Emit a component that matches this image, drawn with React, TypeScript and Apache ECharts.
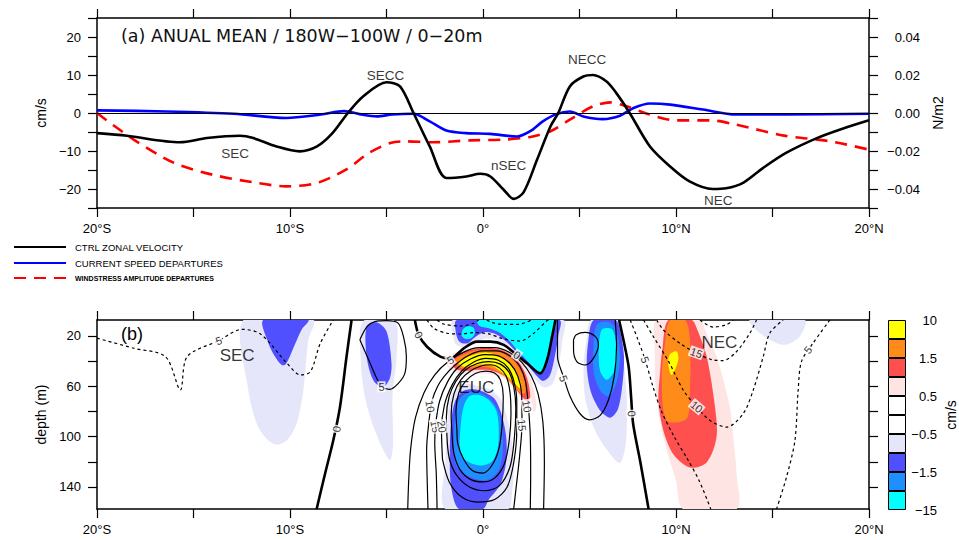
import React, { useEffect, useRef } from "react";
import * as echarts from "echarts";

type Pt = [number, number];

// ================= Panel (a): lines =================
const ctrlZonalVelocity: Pt[] = [
  [-20, -5.3], [-18.45, -6.0], [-15.7, -7.7], [-14.3, -6.6], [-12.6, -6.0], [-11.9, -6.6],
  [-10.7, -8.8], [-9.5, -10.1], [-8.6, -8.8], [-7.8, -5.3], [-7.0, 0], [-6.2, 4.4],
  [-5.0, 8.1], [-4.3, 7.0], [-3.6, 0], [-2.76, -8.8], [-1.9, -17.1], [-0.86, -16.7],
  [-0.14, -16.0], [0.38, -16.7], [1.07, -20.2], [1.59, -22.6], [2.1, -20.9], [2.8, -12.3],
  [3.5, -3.5], [3.9, 0], [4.5, 7.0], [5.2, 9.6], [5.7, 10.0], [6.4, 8.3], [6.9, 5.3],
  [7.6, 0], [8.65, -8.8], [9.7, -14.1], [10.7, -18.0], [11.9, -20.0], [12.6, -19.8],
  [13.5, -18.3], [14.5, -14.5], [15.7, -10.5], [17.3, -6.6], [18.7, -4.0], [20, -1.9],
];
const currentSpeedDepartures: Pt[] = [
  [-20, 0.7], [-16.4, 0.4], [-12.9, -0.2], [-10.2, -1.3], [-8.4, -0.4], [-7.2, 0.5],
  [-6.4, -0.3], [-5.5, -0.9], [-4.7, -0.4], [-3.6, -0.2], [-2.76, -2.2], [-1.9, -4.6],
  [-0.86, -5.3], [0.38, -5.5], [1.76, -6.2], [2.45, -4.8], [3.1, -2.2], [3.8, -0.3],
  [4.5, 0.4], [5.2, -0.9], [6.2, -1.6], [7.1, -0.7], [7.8, 1.3], [8.65, 2.5], [9.7, 2.2],
  [11.4, 0.9], [13.1, -0.4], [15.7, -0.4], [20, -0.2],
];
const windstressDepartures: Pt[] = [
  [-20, 0], [-18.1, -0.014], [-16.0, -0.0263], [-14.0, -0.0325], [-11.9, -0.0365],
  [-10.2, -0.0386], [-8.6, -0.0368], [-7.1, -0.0298], [-5.9, -0.021], [-4.8, -0.0158],
  [-4.0, -0.0149], [-2.6, -0.0154], [-0.66, -0.0144], [1.07, -0.014], [2.45, -0.0126],
  [3.5, -0.0096], [4.5, -0.0035], [5.7, 0.0035], [6.6, 0.0056], [7.45, 0.0035],
  [8.5, -0.0004], [10, -0.0039], [11.8, -0.0039], [13.1, -0.0061], [15.6, -0.0119],
  [18, -0.0149], [20, -0.0193],
];
const panelALabels: [string, number, number][] = [
  ["SECC", -5.05, 10.0], ["SEC", -12.84, -10.7], ["nSEC", 1.33, -13.8],
  ["NECC", 5.4, 14.1], ["NEC", 12.19, -22.9],
];

// ================= Tick labels =================
const latTickValues = [-20, -10, 0, 10, 20];
const latTickLabels = ["20°S", "10°S", "0°", "10°N", "20°N"];
const velTickValues = [-20, -10, 0, 10, 20];
const velTickLabels = ["−20", "−10", "0", "10", "20"];
const stressTickValues = [-0.04, -0.02, 0, 0.02, 0.04];
const stressTickLabels = ["−0.04", "−0.02", "0.00", "0.02", "0.04"];
const depthTickValues = [20, 40, 60, 80, 100, 120, 140];
const depthLabelValues = [20, 60, 100, 140];

// ================= Panel (b): shaded departures =================
const secLav: Pt[] = [[-12.41, 7.5], [-12.16, 63.2], [-11.72, 89.9], [-11.21, 101.9], [-10.69, 106.4], [-10.17, 103.2], [-9.66, 89.9], [-9.31, 63.2], [-9.05, 23.2], [-8.79, 7.5]];
const secBlue: Pt[] = [[-11.38, 7.5], [-11.12, 25.9], [-10.78, 36.5], [-10.43, 43.2], [-10.21, 42.4], [-9.83, 29.9], [-9.4, 15.2], [-9.05, 7.5]];
const s5Lav: Pt[] = [[-6.21, 8.5], [-6.34, 36.5], [-6.12, 68.5], [-5.6, 95.2], [-4.83, 118.7], [-4.66, 105.9], [-4.69, 68.5], [-4.48, 36.5], [-4.57, 8.5]];
const s5Blue: Pt[] = [[-6.03, 12.5], [-5.52, 9.3], [-5.0, 16.5], [-4.74, 41.9], [-4.83, 53.9], [-5.21, 61.1], [-5.69, 55.2], [-6.03, 36.5]];
const eucLav: Pt[] = [[-1.95, 157.5], [-1.95, 120], [-1.85, 90], [-1.7, 70], [-1.35, 60], [-0.8, 58], [-0.2, 60], [0.4, 63], [0.9, 70], [1.25, 85], [1.5, 105], [1.6, 125], [1.5, 145], [1.3, 157.5]];
const eucBlue: Pt[] = [[-1.25, 157.5], [-1.65, 140], [-1.72, 115], [-1.65, 88], [-1.45, 72], [-1.05, 64], [-0.5, 62.5], [0.1, 65], [0.6, 70], [0.95, 82], [1.2, 100], [1.2, 120], [0.9, 138], [0.3, 150], [0.0, 157.5]];
const eucDodger: Pt[] = [[-1.45, 120], [-1.5, 100], [-1.42, 82], [-1.2, 70], [-0.75, 65], [-0.2, 65.5], [0.35, 70], [0.8, 80], [1.0, 95], [1.02, 112], [0.8, 127], [0.3, 134], [-0.3, 134], [-0.95, 130], [-1.3, 125]];
const eucCyan: Pt[] = [[-1.2, 110], [-1.15, 90], [-1.0, 76], [-0.7, 68], [-0.2, 67], [0.3, 71], [0.7, 80], [0.82, 95], [0.75, 110], [0.45, 120], [-0.1, 123], [-0.65, 121], [-1.0, 117]];
const arcPink: Pt[] = [[-1.8, 37], [-1.2, 32], [-0.5, 29.5], [0.21, 28.5], [1.1, 30.5], [1.9, 39], [2.45, 54], [2.75, 72], [2.7, 80], [2.35, 80], [1.95, 70], [1.5, 60], [1.0, 53], [0.4, 50.5], [-0.3, 50], [-1.0, 50.5], [-1.5, 49], [-1.85, 44]];
const arcRed: Pt[] = [[-1.6, 38], [-1.0, 33], [-0.4, 30.5], [0.21, 29.5], [1.0, 31.5], [1.75, 39], [2.25, 52], [2.45, 68], [2.3, 72], [2.0, 68], [1.6, 60], [1.1, 52], [0.4, 47.5], [-0.3, 47], [-1.0, 48], [-1.45, 46]];
const arcOrange: Pt[] = [[-1.4, 38.5], [-0.9, 34.5], [-0.4, 32], [0.21, 31], [0.95, 33.5], [1.65, 41], [2.1, 53], [2.2, 65], [2.0, 66], [1.6, 60], [1.07, 51.5], [0.38, 45.5], [-0.31, 45], [-1.0, 46], [-1.3, 44]];
const arcYellow: Pt[] = [[-1.18, 39.5], [-0.49, 35.3], [0.21, 33.4], [0.9, 36.6], [1.59, 45.9], [1.98, 58], [1.95, 62], [1.59, 57], [1.07, 49.9], [0.38, 43.2], [-0.31, 43], [-1.0, 44.5], [-1.25, 42]];
const topLav: Pt[] = [[-1.55, 7.5], [-1.55, 20], [-1.4, 27], [-0.9, 29], [-0.4, 25], [0.2, 22], [0.8, 24], [1.4, 32], [2.0, 42], [2.5, 51], [2.9, 58], [3.2, 61], [3.6, 58], [3.9, 45], [4.1, 25], [4.15, 7.5]];
const topBlue: Pt[] = [[-1.35, 7.5], [-1.4, 18], [-1.2, 25], [-0.8, 26], [-0.4, 21], [0.1, 17], [0.7, 19], [1.3, 26], [1.9, 36], [2.4, 45], [2.85, 53], [3.1, 56], [3.45, 52], [3.7, 38], [3.9, 20], [3.95, 7.5]];
const topCyan: Pt[] = [[-0.3, 7.5], [-0.2, 12], [0.3, 14], [0.8, 17], [1.3, 23], [1.8, 32], [2.3, 40], [2.75, 47], [3.05, 50], [3.3, 40], [3.55, 22], [3.72, 7.5]];
const blobCyan: Pt[] = [[-1.1, 20], [-1.05, 15], [-0.8, 12.5], [-0.5, 13.5], [-0.42, 18], [-0.6, 22], [-0.9, 22.5]];
const n5Lav: Pt[] = [[5.6, 7.5], [5.35, 25], [5.21, 45], [5.3, 70], [5.8, 95], [6.5, 112], [7.1, 121], [7.4, 105], [7.45, 70], [7.3, 40], [7.05, 7.5]];
const n5Blue: Pt[] = [[5.73, 7.5], [5.45, 25], [5.38, 45], [5.6, 65], [6.1, 80], [6.6, 85], [7.0, 78], [7.25, 55], [7.3, 35], [7.05, 12], [6.85, 7.5]];
const n5Dodger: Pt[] = [[5.9, 11], [5.72, 30], [5.75, 50], [6.1, 64], [6.55, 68], [6.95, 55], [7.1, 35], [6.85, 14], [6.5, 9]];
const n5Cyan: Pt[] = [[6.16, 15], [6.0, 31], [6.07, 48], [6.41, 55], [6.84, 47], [6.93, 31], [6.7, 15]];
const necPink: Pt[] = [[9.0, 7.5], [8.9, 30], [8.95, 63], [9.2, 90], [9.6, 115], [10.0, 135], [10.38, 157.5], [13.14, 157.5], [13.14, 130], [13.0, 105], [12.79, 76.5], [12.1, 36.5], [11.5, 15], [11.24, 7.5]];
const necRed: Pt[] = [[9.6, 7.5], [9.3, 30], [9.17, 50], [9.09, 71], [9.34, 95], [9.86, 114], [10.72, 124.5], [11.59, 120.5], [12.1, 100.5], [12.02, 76.5], [11.59, 36.5], [11.1, 15], [10.81, 7.5]];
const necOrange: Pt[] = [[9.69, 7.5], [9.43, 25.9], [9.26, 55.2], [9.52, 87.2], [10.55, 85.9], [10.72, 63.2], [10.72, 23.2], [10.47, 7.5]];
const necYellow: Pt[] = [[9.66, 35.2], [9.6, 43.2], [9.78, 51.2], [10.12, 39.2], [10.03, 32.5]];
const n15Lav: Pt[] = [[13.83, 7.5], [14.34, 17.9], [15.55, 27.2], [16.41, 20.5], [16.67, 7.5]];

const levelColors: Record<string, string> = {
  cyan: "#00ffff", dodger: "#1e8fff", blue: "#5050ff", lav: "#e6e6fa",
  pink: "#ffe4e4", red: "#ff5050", orange: "#ff8c1a", yellow: "#ffff00",
};
const fillLayers: [Pt[], string][] = [
  [secLav, "lav"], [secBlue, "blue"], [s5Lav, "lav"], [s5Blue, "blue"],
  [eucLav, "lav"], [eucBlue, "blue"], [eucDodger, "dodger"], [eucCyan, "cyan"],
  [arcPink, "pink"], [arcRed, "red"], [arcOrange, "orange"], [arcYellow, "yellow"],
  [topLav, "lav"], [topBlue, "blue"], [topCyan, "cyan"], [blobCyan, "cyan"],
  [n5Lav, "lav"], [n5Blue, "blue"], [n5Dodger, "dodger"], [n5Cyan, "cyan"],
  [necPink, "pink"], [necRed, "red"], [necOrange, "orange"], [necYellow, "yellow"],
  [n15Lav, "lav"],
];

// ================= Panel (b): CTRL zonal velocity contours =================
const zero1: Pt[] = [[-6.81, 7.5], [-7.07, 36.5], [-7.41, 76.5], [-7.76, 103.2], [-8.19, 129.9], [-8.62, 157.5]];
const zero2: Pt[] = [[-3.53, 7.5], [-3.33, 19.4], [-2.9, 28.7], [-2.21, 36.6], [-1.69, 38], [-1.0, 30], [-0.31, 24.7], [0.38, 24.7], [1.07, 27.3], [1.76, 35.3], [2.28, 41.9], [2.97, 49.9], [3.32, 39.2], [3.58, 20.7], [3.75, 7.5]];
const zero3: Pt[] = [[7.05, 7.5], [7.3, 25], [7.55, 45], [7.68, 70], [7.78, 90], [8.15, 120], [8.58, 157.5]];

const pos5South: Pt[] = [[-6.38, 23.2], [-6.0, 12.5], [-5.6, 8.8], [-5.0, 8.0], [-4.4, 10], [-4.1, 22], [-3.97, 36.5], [-4.05, 49.9], [-4.4, 58], [-4.83, 62.5], [-5.2, 61], [-5.5, 54], [-5.9, 40], [-6.38, 23.2]];
const pos5North: Pt[] = [[3.86, 7.5], [3.86, 36.5], [4.17, 52.5], [4.52, 68.5], [5.03, 81.9], [5.52, 86.7], [6.07, 83.2], [6.5, 71], [6.8, 52], [6.92, 28], [6.85, 7.5]];
const pos10North: Pt[] = [[4.69, 23.2], [4.83, 19.2], [5.29, 17.3], [5.81, 20.5], [5.98, 27.2], [5.72, 37.9], [5.29, 43.2], [4.86, 40.5], [4.69, 31.2], [4.69, 23.2]];
const euc5: Pt[] = [[-3.9, 157.5], [-3.85, 135], [-3.75, 110], [-3.5, 85], [-3.05, 65], [-2.5, 51], [-1.8, 40.5], [-1.0, 33], [-0.2, 29.5], [0.6, 29.5], [1.4, 33.5], [2.0, 41], [2.5, 52], [2.85, 66], [3.1, 88], [3.18, 120], [3.14, 157.5]];
const euc10: Pt[] = [[-2.85, 157.5], [-2.9, 130], [-2.92, 110], [-2.8, 88], [-2.65, 72], [-2.35, 60], [-2.0, 52], [-1.5, 44], [-0.8, 36], [0.0, 32], [0.7, 32], [1.4, 36], [1.9, 44], [2.2, 56], [2.35, 76], [2.45, 100], [2.47, 130], [2.45, 157.5]];
const euc15: Pt[] = [[-2.38, 157.5], [-2.42, 130], [-2.5, 105], [-2.45, 90], [-2.25, 72], [-1.85, 57], [-1.35, 46], [-0.65, 38.5], [0.1, 35], [0.8, 36], [1.4, 42], [1.8, 52], [2.0, 66], [2.02, 90], [1.9, 115], [1.72, 140], [1.59, 157.5]];
const euc20: Pt[] = [[-2.1, 118], [-2.15, 95], [-2.0, 75], [-1.6, 59], [-1.1, 48], [-0.5, 41], [0.15, 38], [0.8, 39.5], [1.3, 45.5], [1.6, 56], [1.75, 72], [1.75, 95], [1.6, 120], [1.25, 140], [0.6, 150], [-0.3, 152], [-1.1, 148], [-1.75, 136], [-2.1, 118]];
const euc25: Pt[] = [[-1.85, 105], [-1.9, 85], [-1.75, 68], [-1.4, 56], [-0.9, 47], [-0.3, 42], [0.3, 40.5], [0.9, 42.5], [1.35, 49], [1.6, 61], [1.7, 78], [1.62, 102], [1.4, 124], [0.85, 139], [0.1, 143], [-0.7, 140], [-1.35, 131], [-1.72, 119], [-1.85, 105]];
const euc30: Pt[] = [[-1.6, 100], [-1.65, 82], [-1.5, 66], [-1.15, 55], [-0.65, 48], [-0.1, 44], [0.4, 43], [0.85, 45.5], [1.2, 52], [1.4, 65], [1.45, 82], [1.35, 104], [1.1, 122], [0.6, 133], [0.0, 136], [-0.65, 134], [-1.2, 126], [-1.5, 114], [-1.6, 100]];
const euc35: Pt[] = [[-1.35, 95], [-1.4, 80], [-1.25, 65], [-0.9, 56], [-0.4, 50], [0.15, 48], [0.6, 49.5], [0.9, 55], [1.05, 68], [1.0, 88], [0.85, 108], [0.5, 122], [0.0, 129], [-0.55, 127], [-1.0, 118], [-1.3, 106], [-1.35, 95]];

const secNeg5: Pt[] = [[-20, 21.9], [-18.1, 29.9], [-16.45, 36.6], [-15.68, 63], [-15.33, 36.6], [-13.69, 23.9], [-12.48, 14.9], [-11.53, 18.6], [-10.15, 41.9], [-9.46, 51.1], [-8.94, 48.5], [-8.43, 26], [-7.76, 7.5]];
const topNeg5: Pt[] = [[-2.9, 7.5], [-2.56, 14], [-1.86, 18], [-1.17, 18.6], [-0.48, 17.5], [0.3, 18.5], [1.07, 22.5], [1.93, 24.2], [2.62, 18.1], [3.31, 8], [3.4, 7.5]];
const topNeg10a: Pt[] = [[-2.38, 7.5], [-2.04, 10.7], [-1.17, 12.3], [-0.49, 10.1], [-0.23, 7.5]];
const topNeg10b: Pt[] = [[0.2, 7.5], [0.45, 9.5], [1.1, 11], [1.8, 11], [2.3, 9], [2.5, 7.5]];
const necNeg5: Pt[] = [[7.63, 7.5], [8.0, 22], [8.4, 39], [8.8, 60], [9.25, 80], [9.9, 100], [10.6, 118], [11.2, 135], [11.8, 157.5]];
const necNeg10: Pt[] = [[8.32, 7.5], [8.8, 20], [9.6, 40], [10.38, 63.2], [11.07, 76.5], [11.76, 87.2], [12.62, 92.5], [13.48, 81.9], [14.0, 63.2], [14.52, 36.5], [14.86, 17.9], [15.55, 7.5]];
const necNeg15: Pt[] = [[9.0, 7.5], [9.35, 15.4], [10.2, 26], [11.0, 33.4], [11.93, 39.2], [12.45, 39.7], [13.14, 32.5], [13.83, 17.9], [14.17, 7.5]];
const necNeg20: Pt[] = [[11.24, 7.5], [11.93, 13.1], [12.62, 11.2], [12.97, 7.5]];
const necNeg5East: Pt[] = [[17.97, 7.5], [17.1, 25.9], [16.5, 40.5], [16.33, 63.2], [16.16, 103.2], [15.72, 132.5], [15.21, 157.5]];

const zeroContours: Pt[][] = [zero1, zero2, zero3];
const positiveContours: Pt[][] = [pos5South, pos5North, pos10North, euc5, euc10, euc15, euc20, euc25, euc30, euc35];
const negativeContours: Pt[][] = [secNeg5, topNeg5, topNeg10a, topNeg10b, necNeg5, necNeg10, necNeg15, necNeg20, necNeg5East];

// [text, lat, depth, rotation]
const contourLabels: [string, number, number, number][] = [
  ["5", -13.69, 23.9, 20], ["5", -5.26, 60.5, 0], ["0", -7.59, 94, 80],
  ["0", -3.33, 19.4, -60], ["0", 1.76, 35.3, -35], ["5", -1.69, 39.2, 30],
  ["10", -2.73, 76, -80], ["15", -2.47, 92, -80], ["20", -2.13, 92, -80],
  ["10", 2.28, 76, -80], ["15", 2.02, 91, -85], ["5", 4.17, 53.9, -70],
  ["0", 7.71, 81.9, -85], ["5", 8.4, 39, -70], ["15", 11.05, 33.5, -20],
  ["10", 11.07, 76.4, -40], ["5", 16.84, 31.2, 50],
];
const panelBLabels: [string, number, number][] = [
  ["SEC", -12.74, 35.3], ["EUC", -0.35, 60.9], ["NEC", 12.25, 25.5],
];

// ================= Colour bar =================
const colorbarColors = ["#00ffff", "#1e8fff", "#5050ff", "#e6e6fa", "#ffffff", "#ffffff", "#ffe4e4", "#ff5050", "#ff8c1a", "#ffff00"];
const colorbarLabels = ["−15", "", "−1.5", "", "−0.5", "", "0.5", "", "1.5", "", "10"];

const FONT = "Liberation Sans, Arial, sans-serif";
const TITLE_FONT = "DejaVu Sans, Liberation Sans, sans-serif";

function lookup(values: number[], labels: string[]) {
  return (v: number) => {
    const i = values.findIndex((t) => Math.abs(t - v) < 1e-6);
    return i >= 0 ? labels[i] : "";
  };
}

const axisLineStyle = { show: true, onZero: false, lineStyle: { color: "#000", width: 1.5 } };
const tickStyle = { show: true, inside: false, length: 9, lineStyle: { color: "#000", width: 1.2 } };
const labelBase = { color: "#000", fontSize: 13, fontFamily: FONT };

export default function App() {
  const ref = useRef<HTMLDivElement>(null);
  useEffect(() => {
    if (!ref.current) return;
    const chart = echarts.init(ref.current, undefined, { renderer: "svg" });

    const latAxis = (grid: number, pos: "bottom" | "top", labels: boolean) => ({
      type: "value", gridIndex: grid, position: pos, min: -20, max: 20, interval: 5,
      axisLine: axisLineStyle, axisTick: tickStyle, splitLine: { show: false },
      axisLabel: { ...labelBase, show: labels, margin: 14, formatter: lookup(latTickValues, latTickLabels) },
    });
    const depthAxis = (pos: "left" | "right", labels: boolean) => ({
      type: "value", gridIndex: 1, position: pos, min: 7.5, max: 157.5, inverse: true,
      axisLine: axisLineStyle,
      axisTick: { ...tickStyle, customValues: depthTickValues },
      splitLine: { show: false },
      axisLabel: { ...labelBase, show: labels, margin: 16, customValues: depthLabelValues },
      name: labels ? "depth (m)" : "", nameLocation: "middle", nameGap: 44,
      nameTextStyle: { color: "#000", fontSize: 14, fontFamily: FONT },
    });

    const series: any[] = [];

    series.push({
      type: "custom", xAxisIndex: 2, yAxisIndex: 2, clip: true, silent: true, z: 1,
      data: fillLayers.map((f) => f[0][0]),
      renderItem: (params: any, api: any) => {
        const f = fillLayers[params.dataIndex];
        return {
          type: "polygon",
          shape: { points: f[0].map((p) => api.coord(p)), smooth: 0.3 },
          style: { fill: levelColors[f[1]], stroke: null },
        };
      },
    });

    const contourSeries = (pts: Pt[], width: number, dashed: boolean) => ({
      type: "line", xAxisIndex: 2, yAxisIndex: 2, data: pts, smooth: 0.3,
      symbol: "none", silent: true, z: 3, clip: true,
      lineStyle: { color: "#000", width, type: dashed ? [3, 3] : "solid" },
    });
    zeroContours.forEach((c) => series.push(contourSeries(c, 2.6, false)));
    positiveContours.forEach((c) => series.push(contourSeries(c, 1.2, false)));
    negativeContours.forEach((c) => series.push(contourSeries(c, 1.2, true)));

    series.push({
      type: "scatter", xAxisIndex: 2, yAxisIndex: 2, symbolSize: 1, silent: true, z: 5,
      itemStyle: { color: "rgba(0,0,0,0)" },
      data: contourLabels.map((l) => ({ name: l[0], value: [l[1], l[2]], label: { rotate: l[3] } })),
      label: {
        show: true, position: "inside", formatter: (p: any) => p.name, color: "#000",
        fontSize: 11, fontFamily: FONT, backgroundColor: "#fff", padding: [0, 1],
      },
    });
    series.push({
      type: "scatter", xAxisIndex: 2, yAxisIndex: 2, symbolSize: 1, silent: true, z: 6,
      itemStyle: { color: "rgba(0,0,0,0)" },
      data: panelBLabels.map((l) => ({ name: l[0], value: [l[1], l[2]] })),
      label: { show: true, position: "inside", formatter: (p: any) => p.name, color: "#000", fontSize: 17, fontFamily: FONT },
    });

    // panel (a)
    series.push({
      name: "WINDSTRESS AMPLITUDE DEPARTURES", type: "line", xAxisIndex: 0, yAxisIndex: 1,
      data: windstressDepartures, smooth: 0.3, symbol: "none", showSymbol: false, z: 3,
      itemStyle: { color: "#ff0000" }, lineStyle: { color: "#ff0000", width: 2.6, type: [12, 8] },
    });
    series.push({
      name: "CURRENT SPEED DEPARTURES", type: "line", xAxisIndex: 0, yAxisIndex: 0,
      data: currentSpeedDepartures, smooth: 0.3, symbol: "none", showSymbol: false, z: 3,
      itemStyle: { color: "#0000ff" }, lineStyle: { color: "#0000ff", width: 2.6 },
    });
    series.push({
      name: "CTRL ZONAL VELOCITY", type: "line", xAxisIndex: 0, yAxisIndex: 0,
      data: ctrlZonalVelocity, smooth: 0.3, symbol: "none", showSymbol: false, z: 4,
      itemStyle: { color: "#000" }, lineStyle: { color: "#000", width: 2.6 },
      markLine: {
        silent: true, symbol: ["none", "none"], label: { show: false },
        lineStyle: { color: "#000", width: 1, type: "solid" },
        data: [{ yAxis: 0 }],
      },
    });
    series.push({
      type: "scatter", xAxisIndex: 0, yAxisIndex: 0, symbolSize: 1, silent: true, z: 6,
      itemStyle: { color: "rgba(0,0,0,0)" },
      data: panelALabels.map((l) => ({ name: l[0], value: [l[1], l[2]] })),
      label: { show: true, position: "inside", formatter: (p: any) => p.name, color: "#000", fontSize: 13.5, fontFamily: FONT },
    });

    // colour bar
    colorbarColors.forEach((c) => {
      series.push({
        type: "bar", xAxisIndex: 4, yAxisIndex: 4, stack: "cb", data: [1], barWidth: "100%",
        silent: true, itemStyle: { color: c, borderColor: "#000", borderWidth: 1 },
      });
    });

    chart.setOption({
      animation: false,
      textStyle: { fontFamily: FONT },
      title: [
        { text: "(a) ANUAL MEAN / 180W−100W / 0−20m", left: 116, top: 22,
          textStyle: { fontSize: 17.5, fontWeight: "normal", color: "#111", fontFamily: TITLE_FONT } },
        { text: "(b)", left: 116, top: 320,
          textStyle: { fontSize: 18, fontWeight: "normal", color: "#000", fontFamily: FONT } },
      ],
      legend: {
        orient: "vertical", left: 8, top: 237, itemWidth: 52, itemHeight: 10, itemGap: 6,
        itemStyle: { opacity: 0, borderWidth: 0 },
        textStyle: { color: "#000", fontFamily: FONT, padding: [0, 0, 0, 4] },
        data: [
          { name: "CTRL ZONAL VELOCITY", textStyle: { fontSize: 9.5 } },
          { name: "CURRENT SPEED DEPARTURES", textStyle: { fontSize: 9.5 } },
          { name: "WINDSTRESS AMPLITUDE DEPARTURES", textStyle: { fontSize: 7, fontWeight: "bold" } },
        ],
      },
      grid: [
        { left: 97, top: 18, width: 772, height: 190 },
        { left: 97, top: 320, width: 772, height: 189 },
        { left: 888, top: 320, width: 21, height: 190 },
      ],
      xAxis: [
        latAxis(0, "bottom", true),
        latAxis(0, "top", false),
        latAxis(1, "bottom", true),
        latAxis(1, "top", false),
        { type: "category", gridIndex: 2, data: ["cb"], show: false },
      ],
      yAxis: [
        {
          type: "value", gridIndex: 0, position: "left", min: -25, max: 25, interval: 5,
          axisLine: axisLineStyle, axisTick: tickStyle, splitLine: { show: false },
          axisLabel: { ...labelBase, margin: 16, formatter: lookup(velTickValues, velTickLabels) },
          name: "cm/s", nameLocation: "middle", nameGap: 44,
          nameTextStyle: { color: "#000", fontSize: 14, fontFamily: FONT },
        },
        {
          type: "value", gridIndex: 0, position: "right", min: -0.05, max: 0.05, interval: 0.01,
          axisLine: axisLineStyle, axisTick: tickStyle, splitLine: { show: false },
          axisLabel: { ...labelBase, margin: 51, align: "right", formatter: lookup(stressTickValues, stressTickLabels) },
          name: "N/m2", nameLocation: "middle", nameGap: 53, nameRotate: 90,
          nameTextStyle: { color: "#000", fontSize: 14, fontFamily: FONT },
        },
        depthAxis("left", true),
        depthAxis("right", false),
        {
          type: "value", gridIndex: 2, position: "right", min: 0, max: 10, interval: 1,
          axisLine: { show: false }, axisTick: { show: false }, splitLine: { show: false },
          axisLabel: { ...labelBase, margin: 31, align: "right", formatter: (v: number) => colorbarLabels[Math.round(v)] ?? "" },
          name: "cm/s", nameLocation: "middle", nameGap: 38, nameRotate: 90,
          nameTextStyle: { color: "#000", fontSize: 14, fontFamily: FONT },
        },
      ],
      series,
    });
    return () => chart.dispose();
  }, []);
  return <div ref={ref} style={{ position: "absolute", left: 0, top: 0, width: 959, height: 540 }} />;
}
